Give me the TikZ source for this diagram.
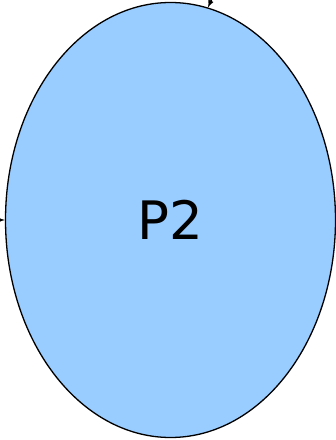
\documentclass[tikz,border=0pt]{standalone}
\usepackage{fontspec}
\setmainfont{DejaVu Sans}
\usetikzlibrary{shapes.geometric}
\definecolor{pblue}{RGB}{153,204,255}

\begin{document}
\begin{tikzpicture}[x=1pt, y=1pt,
    proc/.style={ellipse, draw, line width=1.3pt, fill=pblue,
                 minimum width=330pt, minimum height=435pt, inner sep=0pt,
                 font=\fontsize{53}{60}\selectfont},
    arrow/.style={->, line width=1.5pt, >=latex}
]
\useasboundingbox (0,0) rectangle (336,440);
\clip (0,0) rectangle (336,440);
% process
\node[proc] (P2) at (170.5,220) {P2};
% incoming arrows
\coordinate (inL) at (-40,220);
\coordinate (inT) at (225,470);
\draw[arrow] (inL) -- (P2.west);
\draw[arrow] (inT) -- (P2.80);
\end{tikzpicture}
\end{document}
